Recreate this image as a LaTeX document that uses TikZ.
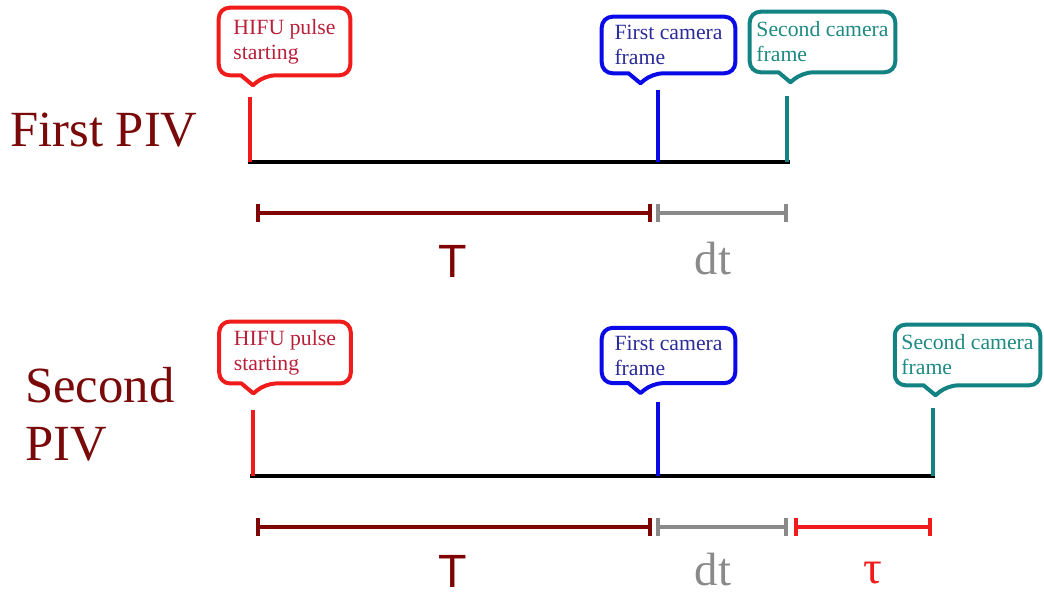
\documentclass[tikz,border=0pt]{standalone}
\usepackage{fontspec}
\setmainfont{Liberation Serif}
\newfontfamily\sansf{Liberation Sans}
\usetikzlibrary{calc,arrows.meta}
\definecolor{evred}{HTML}{F01C1C}
\definecolor{evblue}{HTML}{0A0AE8}
\definecolor{evteal}{HTML}{138282}
\definecolor{labred}{HTML}{7A0A0A}
\definecolor{barred}{HTML}{7F0505}
\definecolor{bargray}{HTML}{8A8A8A}
\definecolor{txhifu}{HTML}{B8203A}
\definecolor{txblue}{HTML}{2B2B99}
\definecolor{txteal}{HTML}{1E8A82}
\newcommand\calloutpath[3]{%
  \draw[#2, line width=3pt, line join=round]
    ($(#1.south west)!#3!(#1.south east)+(-12,0)$)
    [rounded corners=8pt] -- (#1.south west) -- (#1.north west) -- (#1.north east) -- (#1.south east)
    -- ($(#1.south west)!#3!(#1.south east)+(12,0)$) [sharp corners]
    -- ($(#1.south west)!#3!(#1.south east)+(0,10)$) -- cycle;}
\begin{document}
\begin{tikzpicture}[x=0.75pt,y=-0.75pt,
  cbox/.style={align=left, inner sep=0pt, font=\fontsize{16.3}{18.75}\selectfont},
  timeline/.style={line width=3pt, black},
  evline/.style={line width=3pt},
  span/.style={line width=3pt, {Bar[width=13pt]}-{Bar[width=13pt]}},
  bigtitle/.style={font=\fontsize{38}{43.5}\selectfont, text=labred, align=left, inner sep=0pt},
  biglab/.style={font=\fontsize{35}{40}\selectfont, inner sep=0pt, anchor=base}
]
\useasboundingbox (0,0) rectangle (1044,595);

% ---------- First PIV ----------
\node[bigtitle, anchor=base west] (t1) at (10,147) {First PIV};

\node[cbox, text=txhifu, minimum width=98.25pt, minimum height=50.25pt] (h1) at (284.5,41.5) {HIFU pulse\\starting};
\calloutpath{h1}{evred}{0.26}
\node[cbox, text=txblue, minimum width=99.75pt, minimum height=42pt] (c1) at (668.5,45) {First camera\\frame};
\calloutpath{c1}{evblue}{0.29}
\node[cbox, text=txteal, minimum width=108.75pt, minimum height=45pt] (s1) at (822.5,42) {Second camera\\frame};
\calloutpath{s1}{evteal}{0.28}

\coordinate (L1a) at (248,162);
\coordinate (L1b) at (790,162);
\draw[timeline] (L1a) -- (L1b);
\coordinate (e1h) at (250,97);  \coordinate (p1h) at (250,162);
\coordinate (e1c) at (658,90);  \coordinate (p1c) at (658,162);
\coordinate (e1s) at (787,96);  \coordinate (p1s) at (787,162);
\draw[evline, evred] (e1h) -- (p1h);
\draw[evline, evblue] (e1c) -- (p1c);
\draw[evline, evteal] (e1s) -- (p1s);

\coordinate (b1a) at (256,213);
\coordinate (b1b) at (652,213);
\coordinate (b1c) at (656,213);
\coordinate (b1d) at (788,213);
\draw[span, barred] (b1a) -- (b1b);
\draw[span, bargray] (b1c) -- (b1d);
\node[biglab, text=barred, font=\sansf\fontsize{35}{40}\selectfont] (T1) at (453,277) {T};
\node[biglab, text=bargray] (d1) at (713,274) {dt};

% ---------- Second PIV ----------
\node[bigtitle, anchor=base west] (t2) at (25,460) {Second\\PIV};

\node[cbox, text=txhifu, minimum width=98.25pt, minimum height=46pt] (h2) at (285,352.5) {HIFU pulse\\starting};
\calloutpath{h2}{evred}{0.26}
\node[cbox, text=txblue, minimum width=99.75pt, minimum height=41pt] (c2) at (668.5,355.5) {First camera\\frame};
\calloutpath{c2}{evblue}{0.29}
\node[cbox, text=txteal, minimum width=108.75pt, minimum height=45pt] (s2) at (967.5,355) {Second camera\\frame};
\calloutpath{s2}{evteal}{0.28}

\coordinate (L2a) at (250,476);
\coordinate (L2b) at (935,476);
\draw[timeline] (L2a) -- (L2b);
\coordinate (e2h) at (253,410);  \coordinate (p2h) at (253,476);
\coordinate (e2c) at (658,402);  \coordinate (p2c) at (658,476);
\coordinate (e2s) at (933,408);  \coordinate (p2s) at (933,476);
\draw[evline, evred] (e2h) -- (p2h);
\draw[evline, evblue] (e2c) -- (p2c);
\draw[evline, evteal] (e2s) -- (p2s);

\coordinate (b2a) at (256,527);
\coordinate (b2b) at (652,527);
\coordinate (b2c) at (656,527);
\coordinate (b2d) at (788,527);
\coordinate (b2e) at (794,527);
\coordinate (b2f) at (932,527);
\draw[span, barred] (b2a) -- (b2b);
\draw[span, bargray] (b2c) -- (b2d);
\draw[span, evred] (b2e) -- (b2f);
\node[biglab, text=barred, font=\sansf\fontsize{35}{40}\selectfont] (T2) at (453,587) {T};
\node[biglab, text=bargray] (d2) at (713,585) {dt};
\node[biglab, text=evred] (tau) at (873,583) {τ};
\end{tikzpicture}
\end{document}
